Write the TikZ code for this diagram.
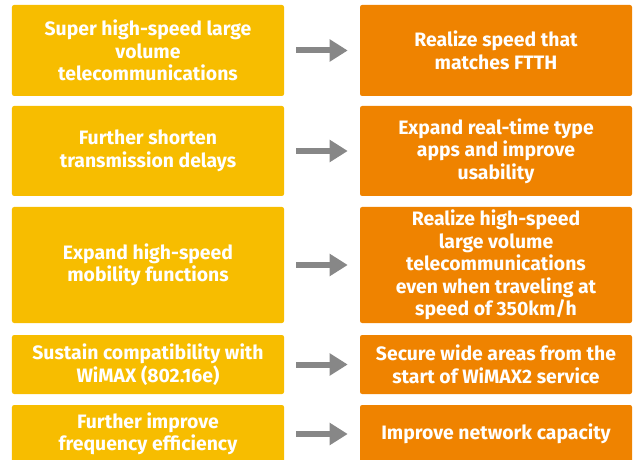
\documentclass[tikz,border=0pt]{standalone}
\usepackage{fontspec}
\setmainfont{Fira Sans}
\usepackage{xcolor}
\usepackage{tikz}
\usetikzlibrary{arrows.meta}

\definecolor{boxyellow}{HTML}{F7BD00}
\definecolor{boxorange}{HTML}{EF8300}
\definecolor{arrowgray}{HTML}{878787}

\begin{document}
\begin{tikzpicture}[
    leftbox/.style={fill=boxyellow, rounded corners=1.5pt, minimum width=6.8cm,
      inner sep=0pt, align=center, text=white, font=\fontsize{13.8}{16}\selectfont\bfseries},
    rightbox/.style={leftbox, fill=boxorange},
    toarrow/.style={draw=arrowgray, line width=0.15cm,
      -{Triangle[length=0.45cm, width=0.53cm]}, shorten <=0.3cm, shorten >=0.3cm}
  ]
  \useasboundingbox (0,0) rectangle (15.825,-11.5);
  \clip (0,0) rectangle (15.825,-11.5);

  % What is wanted (left column)
  \node[leftbox, minimum height=2.275cm] (need1) at (3.7,-1.2625)
    {Super high-speed large\\volume\\telecommunications};
  \node[leftbox, minimum height=2.25cm] (need2) at (3.7,-3.775)
    {Further shorten\\transmission delays};
  \node[leftbox, minimum height=2.9cm] (need3) at (3.7,-6.625)
    {Expand high-speed\\mobility functions};
  \node[leftbox, minimum height=1.475cm] (need4) at (3.7,-9.1125)
    {Sustain compatibility with\\WiMAX (802.16e)};
  \node[leftbox, minimum height=1.45cm] (need5) at (3.7,-10.85)
    {Further improve\\frequency efficiency};

  % What it brings (right column)
  \node[rightbox, minimum height=2.275cm] (gain1) at (12.4,-1.2625)
    {Realize speed that\\matches FTTH};
  \node[rightbox, minimum height=2.25cm] (gain2) at (12.4,-3.775)
    {Expand real-time type\\apps and improve\\usability};
  \node[rightbox, minimum height=2.9cm] (gain3) at (12.4,-6.625)
    {Realize high-speed\\large volume\\telecommunications\\even when traveling at\\speed of 350km/h};
  \node[rightbox, minimum height=1.475cm] (gain4) at (12.4,-9.1125)
    {Secure wide areas from the\\start of WiMAX2 service};
  \node[rightbox, minimum height=1.45cm] (gain5) at (12.4,-10.85)
    {Improve network capacity};

  \foreach \i in {1,...,5}
    \draw[toarrow] (need\i) -- (gain\i);
\end{tikzpicture}
\end{document}
